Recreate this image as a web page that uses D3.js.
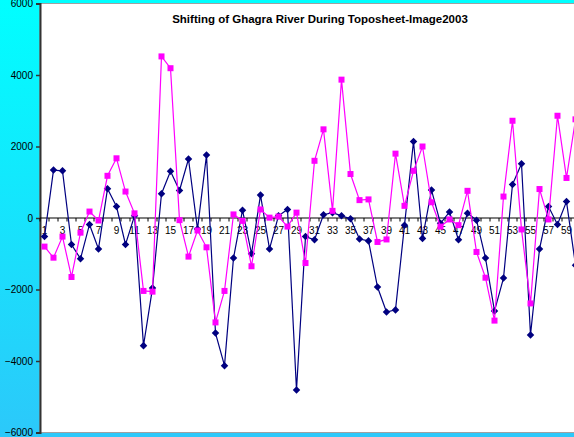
<!DOCTYPE html>
<html><head><meta charset="utf-8">
<script src="https://cdn.jsdelivr.net/npm/d3@7"></script>
<style>
html,body{margin:0;padding:0;overflow:hidden;}
svg{display:block;font-family:Arial,"Liberation Sans",sans-serif;}
</style></head>
<body>
<script>
const categories = d3.range(1, 61);
const seriesBlue = [-520,1340,1320,-740,-1140,-180,-865,820,320,-740,
  60,-3570,-1960,680,1310,770,1650,-310,1760,-3220,
  -4130,-1120,220,-1000,640,-865,60,240,-4810,-520,
  -610,90,150,60,-20,-590,-640,-1930,-2630,-2570,
  -200,2140,-570,780,-150,170,-610,130,-60,-1120,
  -2600,-1680,940,1520,-3270,-870,320,-180,460,-1320];
const seriesPink = [-800,-1110,-520,-1650,-410,180,-70,1180,1670,740,
  130,-2040,-2060,4520,4190,-60,-1080,-350,-820,-2920,
  -2040,100,-80,-1350,240,10,40,-240,150,-1260,
  1600,2480,200,3870,1230,500,520,-670,-600,1800,
  340,1320,2000,440,-240,-40,-200,760,-950,-1670,
  -2870,600,2720,-320,-2390,810,-40,2860,1120,2760];
const yTicks = [-6000,-4000,-2000,0,2000,4000,6000];
const xLabels = categories.filter(c => c % 2 === 1);
const titleText = "Shifting of Ghagra River During Toposheet-Image2003";

const W = 574, H = 437;
const svg = d3.select("body").append("svg").attr("width", W).attr("height", H);

const defs = svg.append("defs");
const g = defs.append("linearGradient").attr("id","bg").attr("x1",0).attr("y1",0).attr("x2",0).attr("y2",1);
g.append("stop").attr("offset","0%").attr("stop-color","#00FFFF");
g.append("stop").attr("offset","100%").attr("stop-color","#2CC8FA");
svg.append("rect").attr("width",W).attr("height",H).attr("fill","url(#bg)");

const x = d3.scaleBand().domain(categories).range([40, 580]).padding(0);
const y = d3.scaleLinear().domain([-6000, 6000]).range([432.5, 3.5]);
const cx = c => x(c) + x.bandwidth()/2;

// plot area
svg.append("rect").attr("x",40).attr("y",y(6000)).attr("width",560).attr("height",y(-6000)-y(6000))
  .attr("fill","#ffffff").attr("stroke","#a0a0a0").attr("stroke-width",1);

// title
svg.append("text").attr("x",320).attr("y",23).attr("text-anchor","middle")
  .attr("font-size","11.5px").attr("font-weight","bold").attr("fill","#000").text(titleText);

// y axis
const ya = svg.append("g").attr("transform","translate(40,0)")
  .call(d3.axisLeft(y).tickValues(yTicks).tickSize(4).tickFormat(d3.format("d")));
ya.select(".domain").attr("stroke","#333").attr("stroke-width",2);
ya.selectAll(".tick line").attr("stroke","#333").attr("stroke-width",1.5);
ya.selectAll(".tick text").attr("font-size","10px").attr("fill","#000").attr("font-family","Arial, 'Liberation Sans', sans-serif").attr("x",-7);

// x axis at zero
const y0 = y(0);
const xa = svg.append("g").attr("transform",`translate(0,${y0})`)
  .call(d3.axisBottom(x).tickValues(xLabels).tickSize(0).tickPadding(9));
xa.select(".domain").remove();
xa.selectAll(".tick text").attr("font-size","10px").attr("fill","#000").attr("font-family","Arial, 'Liberation Sans', sans-serif");
svg.append("line").attr("x1",40).attr("x2",580).attr("y1",y0).attr("y2",y0).attr("stroke","#000").attr("stroke-width",1.2);
const bounds = categories.map(c => x(c)).concat([x(categories[categories.length-1]) + x.bandwidth()]);
svg.append("g").selectAll("line").data(bounds).join("line")
  .attr("x1",d=>d).attr("x2",d=>d).attr("y1",y0).attr("y2",y0+3.5).attr("stroke","#000").attr("stroke-width",1);

// series
const line = d3.line().x((d,i)=>cx(categories[i])).y(d=>y(d));
svg.append("path").datum(seriesBlue).attr("d",line).attr("fill","none").attr("stroke","#000080").attr("stroke-width",1.2);
svg.append("g").selectAll("path").data(seriesBlue).join("path")
  .attr("d", d3.symbol().type(d3.symbolDiamond2).size(36))
  .attr("transform",(d,i)=>`translate(${cx(categories[i])},${y(d)})`).attr("fill","#000080");

svg.append("path").datum(seriesPink).attr("d",line).attr("fill","none").attr("stroke","#FF00FF").attr("stroke-width",1.2);
svg.append("g").selectAll("rect").data(seriesPink).join("rect")
  .attr("x",(d,i)=>cx(categories[i])-3).attr("y",d=>y(d)-3).attr("width",6).attr("height",6).attr("fill","#FF00FF");
</script>
</body></html>
